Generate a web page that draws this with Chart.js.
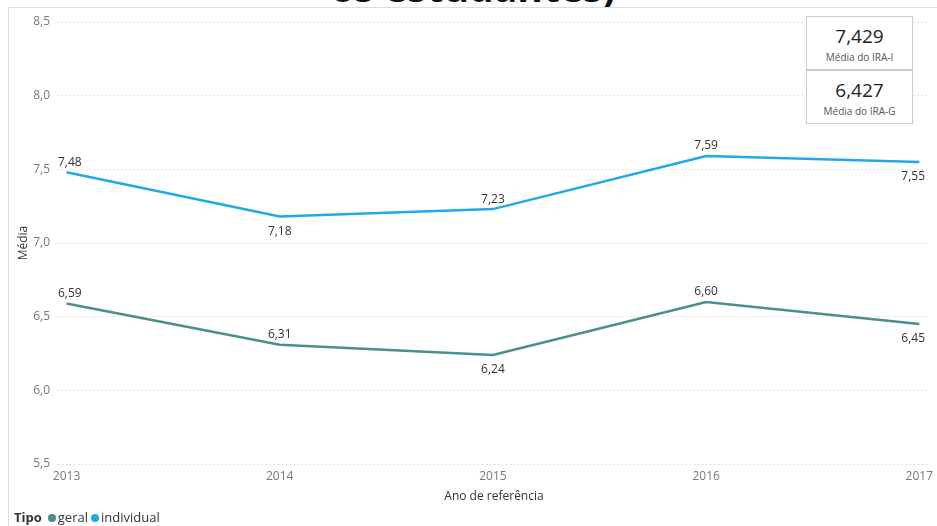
<!DOCTYPE html>
<html>
<head>
<meta charset="utf-8">
<script src="https://cdn.jsdelivr.net/npm/chart.js@4/dist/chart.umd.min.js"></script>
<style>
    body { margin: 0; background: #fff; font-family: 'Open Sans', sans-serif; }
    #moldura { position: absolute; left: 8px; top: 7px; width: 929px; height: 519px; border-left: 1px solid #ddd; border-top: 1px solid #ddd; }
    #titulo { position: absolute; left: 0; top: 0; width: 937px; height: 7px; overflow: hidden; }
    #titulo span { position: absolute; left: 0; width: 946px; top: -32px; text-align: center; font-size: 39px; font-weight: bold; color: #111; line-height: 38px; }
    #grafico { position: absolute; left: 0; top: 0; }
    .cartao { position: absolute; left: 806px; width: 105px; height: 52px; border: 1px solid #ccc; background: #fff; text-align: center; color: #333; }
    .cartao .valor { font-size: 19px; margin-top: 7px; line-height: 24px; color: #222; }
    .cartao .rotulo { font-size: 10px; color: #555; line-height: 14px; margin-top: 2px; }
    #legenda { position: absolute; left: 14px; top: 508px; font-size: 13px; color: #333; }
    #legenda b { margin-right: 6px; }
    #legenda i { display: inline-block; width: 8px; height: 8px; border-radius: 50%; margin-right: 2px; }
    #legenda span { margin-right: 3px; }
</style>
</head>
<body>
<div id="titulo"><span>os estudantes)</span></div>
<div id="moldura"></div>
<canvas id="grafico" width="937" height="526"></canvas>
<div class="cartao" style="top:16px"><div class="valor" id="valorI"></div><div class="rotulo">Média do IRA-I</div></div>
<div class="cartao" style="top:70px"><div class="valor" id="valorG"></div><div class="rotulo">Média do IRA-G</div></div>
<div id="legenda"></div>
<script>
var anos = [2013, 2014, 2015, 2016, 2017];
var valoresGeral = [6.59, 6.31, 6.24, 6.60, 6.45];
var valoresIndividual = [7.48, 7.18, 7.23, 7.59, 7.55];
var ticksY = [5.5, 6.0, 6.5, 7.0, 7.5, 8.0, 8.5];
var mediaIraI = 7.429;
var mediaIraG = 6.427;

// posição dos rótulos de dados (acima/abaixo do ponto)
var posGeral = ['acima', 'acima', 'abaixo', 'acima', 'abaixo'];
var posIndividual = ['acima', 'abaixo', 'acima', 'acima', 'abaixo'];

var corGeral = '#4a8e8e';
var corIndividual = '#22a8e6';

function virgula(v, casas) {
    return v.toFixed(casas).replace('.', ',');
}

document.getElementById('valorI').textContent = virgula(mediaIraI, 3);
document.getElementById('valorG').textContent = virgula(mediaIraG, 3);

function pontos(valores) {
    return anos.map(function (a, i) { return { x: a, y: valores[i] }; });
}

var rotulosDados = {
    id: 'rotulosDados',
    afterDatasetsDraw: function (chart) {
        var ctx = chart.ctx;
        var area = chart.chartArea;
        ctx.save();
        ctx.font = '12px "Open Sans"';
        ctx.fillStyle = '#333';
        ctx.textAlign = 'center';
        chart.data.datasets.forEach(function (ds, d) {
            var meta = chart.getDatasetMeta(d);
            meta.data.forEach(function (p, i) {
                var texto = virgula(ds.data[i].y, 2);
                var meia = ctx.measureText(texto).width / 2;
                var x = Math.max(area.left + meia, Math.min(area.right - meia - 5, p.x));
                if (ds.posicoes[i] === 'acima') {
                    ctx.textBaseline = 'bottom';
                    ctx.fillText(texto, x, p.y - 4);
                } else {
                    ctx.textBaseline = 'top';
                    ctx.fillText(texto, x, p.y + 9);
                }
            });
        });
        ctx.restore();
    }
};

var legenda = document.getElementById('legenda');
legenda.innerHTML = '<b>Tipo</b>' +
    '<i style="background:' + corGeral + '"></i><span>geral</span>' +
    '<i style="background:' + corIndividual + '"></i><span>individual</span>';

new Chart(document.getElementById('grafico').getContext('2d'), {
    type: 'line',
    data: {
        datasets: [{
            label: 'geral',
            data: pontos(valoresGeral),
            posicoes: posGeral,
            borderColor: corGeral,
            borderWidth: 2.5,
            pointRadius: 0,
            tension: 0
        }, {
            label: 'individual',
            data: pontos(valoresIndividual),
            posicoes: posIndividual,
            borderColor: corIndividual,
            borderWidth: 2.5,
            pointRadius: 0,
            tension: 0
        }]
    },
    options: {
        responsive: false,
        animation: false,
        layout: { padding: { left: 10, right: 7, top: 22, bottom: 22 } },
        plugins: {
            legend: { display: false },
            tooltip: { enabled: false }
        },
        scales: {
            x: {
                type: 'linear',
                min: 2012.96,
                max: 2017.05,
                grid: { display: false },
                border: { display: false },
                afterBuildTicks: function (scale) {
                    scale.ticks = anos.map(function (a) { return { value: a }; });
                },
                afterFit: function (scale) { scale.height = 40; },
                ticks: {
                    color: '#777',
                    font: { size: 12, family: 'Open Sans' },
                    padding: -3,
                    maxRotation: 0,
                    callback: function (v) { return String(v); }
                },
                title: {
                    display: true,
                    text: 'Ano de referência',
                    color: '#333',
                    font: { size: 12, family: 'Open Sans' },
                    padding: { top: 0, bottom: 0 }
                }
            },
            y: {
                min: 5.5,
                max: 8.5,
                afterBuildTicks: function (scale) {
                    scale.ticks = ticksY.map(function (t) { return { value: t }; });
                },
                afterFit: function (scale) { scale.width = 48; },
                grid: { color: '#c8c8c8', drawTicks: false, lineWidth: 1 },
                border: { display: false, dash: [1, 3] },
                ticks: {
                    color: '#777',
                    font: { size: 12, family: 'Open Sans' },
                    padding: 8,
                    callback: function (v) { return virgula(v, 1); }
                },
                title: {
                    display: true,
                    text: 'Média',
                    color: '#333',
                    font: { size: 12, family: 'Open Sans' },
                    padding: { top: 6, bottom: 0 }
                }
            }
        }
    },
    plugins: [rotulosDados]
});
</script>
</body>
</html>
